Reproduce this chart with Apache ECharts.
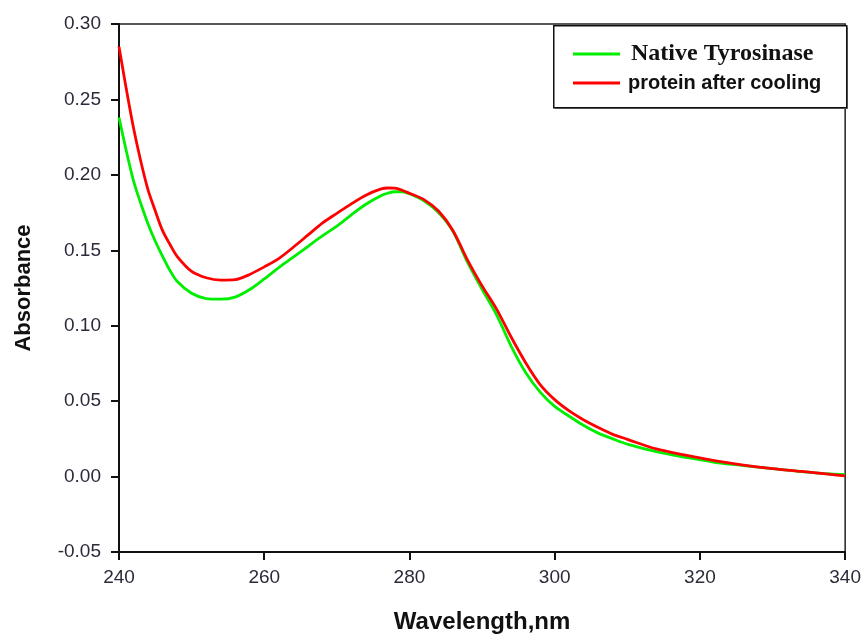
<!DOCTYPE html>
<html>
<head>
<meta charset="utf-8">
<script src="https://cdn.jsdelivr.net/npm/echarts@6/dist/echarts.min.js"></script>
<style>html,body{margin:0;padding:0;background:#fff}#c{width:864px;height:639px}</style>
</head>
<body>
<div id="c"></div>
<script>
const wavelength = [240,241,242,243,244,245,246,247,248,250,252,254,256,258,260,262,264,266,268,270,272,274,276,277,278,279,280,282,284,286,288,290,292,294,296,298,300,302,304,306,308,310,314,318,322,326,330,334,338,340];
const nativeTyrosinase = [0.238,0.216,0.196,0.181,0.1675,0.156,0.146,0.1368,0.1295,0.1215,0.118,0.1176,0.119,0.124,0.131,0.1385,0.1455,0.1525,0.1595,0.166,0.1735,0.1805,0.186,0.1878,0.1888,0.1888,0.1875,0.1828,0.175,0.1625,0.142,0.1242,0.1072,0.0865,0.069,0.056,0.0465,0.040,0.0338,0.0288,0.025,0.0215,0.0165,0.0128,0.0095,0.0073,0.0052,0.0033,0.0017,0.0013];
const afterCooling = [0.285,0.257,0.231,0.209,0.190,0.176,0.163,0.154,0.146,0.136,0.1318,0.1302,0.1305,0.134,0.139,0.1445,0.152,0.160,0.168,0.1745,0.1808,0.1865,0.1905,0.1913,0.1912,0.1898,0.1878,0.1836,0.176,0.163,0.1435,0.1264,0.111,0.0925,0.0755,0.061,0.051,0.0435,0.0375,0.0325,0.028,0.0247,0.0183,0.0142,0.0105,0.0076,0.0052,0.0034,0.0014,0.0005];
const seriesNames = ['Native Tyrosinase','protein after cooling'];
const xTitle = 'Wavelength,nm';
const yTitle = 'Absorbance';

const pairs = (xs, ys) => xs.map((x, i) => [x, ys[i]]);
const chart = echarts.init(document.getElementById('c'), null, {renderer: 'canvas'});
const labelColor = '#2b2b3b';
chart.setOption({
  animation: false,
  backgroundColor: '#fff',
  grid: {left: 119, right: 17, top: 24, bottom: 87, show: true, borderColor: '#222', borderWidth: 1.5},
  xAxis: {
    type: 'value', min: 240, max: 340, interval: 20,
    name: xTitle, nameLocation: 'middle', nameGap: 58,
    nameTextStyle: {fontFamily: 'Liberation Sans', fontWeight: 'bold', fontSize: 24, color: '#111'},
    axisLine: {onZero: false, lineStyle: {color: '#111', width: 2}},
    axisTick: {show: true, inside: false, length: 8, lineStyle: {color: '#111', width: 2}},
    axisLabel: {fontFamily: 'Liberation Sans', fontSize: 19, color: labelColor, margin: 16},
    splitLine: {show: false}
  },
  yAxis: {
    type: 'value', min: -0.05, max: 0.30, interval: 0.05,
    name: yTitle, nameLocation: 'middle', nameGap: 84, nameRotate: 90,
    nameTextStyle: {fontFamily: 'Liberation Sans', fontWeight: 'bold', fontSize: 22, color: '#111'},
    axisLine: {show: true, onZero: false, lineStyle: {color: '#111', width: 2}},
    axisTick: {show: true, inside: false, length: 8, lineStyle: {color: '#111', width: 2}},
    axisLabel: {fontFamily: 'Liberation Sans', fontSize: 19, color: labelColor, margin: 18,
      formatter: v => v.toFixed(2)},
    splitLine: {show: false}
  },
  legend: {
    orient: 'vertical', left: 568, top: 37, itemWidth: 47, itemHeight: 3, itemGap: 7,
    icon: 'rect', z: 20,
    data: seriesNames,
    formatter: name => name === seriesNames[0] ? '{a|' + name + '}' : '{b|' + name + '}',
    textStyle: {
      rich: {
        a: {fontFamily: 'Liberation Serif', fontWeight: 'bold', fontSize: 24, color: '#111', lineHeight: 24, padding: [0,0,0,6]},
        b: {fontFamily: 'Liberation Sans', fontWeight: 'bold', fontSize: 20, color: '#111', lineHeight: 24, padding: [0,0,0,3]}
      }
    }
  },
  graphic: [
    {type: 'rect', left: 555, top: 27, shape: {width: 293, height: 82}, style: {fill: '#888'}, z: 5},
    {type: 'rect', left: 553, top: 25, shape: {width: 293, height: 82}, style: {fill: '#fff', stroke: '#111', lineWidth: 1.5}, z: 6}
  ],
  series: [
    {name: seriesNames[0], type: 'line', data: pairs(wavelength, nativeTyrosinase), smooth: 0.3,
      symbol: 'none', lineStyle: {color: '#00ee00', width: 2.8}, itemStyle: {color: '#00ee00'}, z: 3},
    {name: seriesNames[1], type: 'line', data: pairs(wavelength, afterCooling), smooth: 0.3,
      symbol: 'none', lineStyle: {color: '#ff0000', width: 2.8}, itemStyle: {color: '#ff0000'}, z: 4}
  ]
});
</script>
</body>
</html>
